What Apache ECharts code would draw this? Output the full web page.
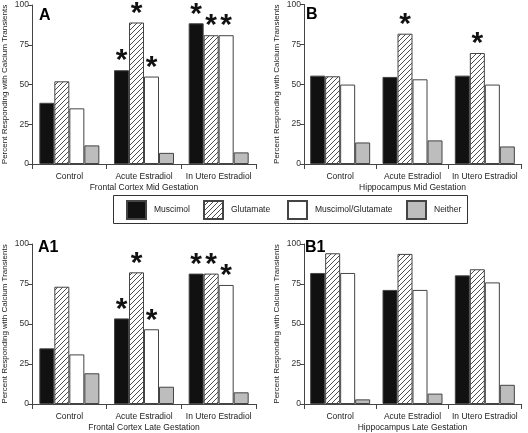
<!DOCTYPE html>
<html>
<head>
<meta charset="utf-8">
<script src="https://cdn.jsdelivr.net/npm/echarts@6/dist/echarts.min.js"></script>
<style>
html,body{margin:0;padding:0;background:#fff;}
#chart{width:528px;height:433px;}
</style>
</head>
<body>
<div id="chart"></div>
<script>
// ---- data ----
const categories = ['Control', 'Acute Estradiol', 'In Utero Estradiol'];
const seriesNames = ['Muscimol', 'Glutamate', 'Muscimol/Glutamate', 'Neither'];
const yTicks = [0, 25, 50, 75, 100];
const panelLetters = ['A', 'B', 'A1', 'B1'];
const panelTitles = ['Frontal Cortex Mid Gestation', 'Hippocampus Mid Gestation', 'Frontal Cortex Late Gestation', 'Hippocampus Late Gestation'];
const yAxisTitle = 'Percent Responding with Calcium Transients';

// Frontal cortex mid gestation (A)
const frontalMidMuscimol = [38.5, 59, 88.5];
const frontalMidGlutamate = [52, 89, 81];
const frontalMidBoth = [35, 55, 81];
const frontalMidNeither = [11.7, 7, 7.3];
const frontalMidStars = [[0, 1, 1], [0, 1, 1], [0, 1, 1], [0, 0, 0]];

// Hippocampus mid gestation (B)
const hippoMidMuscimol = [55.4, 54.6, 55.4];
const hippoMidGlutamate = [55, 81.7, 69.6];
const hippoMidBoth = [49.8, 53.1, 49.8];
const hippoMidNeither = [13.5, 14.8, 11];
const hippoMidStars = [[0, 0, 0], [0, 1, 1], [0, 0, 0], [0, 0, 0]];

// Frontal cortex late gestation (A1)
const frontalLateMuscimol = [34.8, 53.5, 81.5];
const frontalLateGlutamate = [73.3, 82.3, 81.5];
const frontalLateBoth = [31, 46.7, 74.4];
const frontalLateNeither = [19.2, 10.8, 7.3];
const frontalLateStars = [[0, 1, 1], [0, 1, 1], [0, 1, 1], [0, 0, 0]];

// Hippocampus late gestation (B1)
const hippoLateMuscimol = [81.9, 71.3, 80.4];
const hippoLateGlutamate = [94.2, 93.8, 84.2];
const hippoLateBoth = [81.9, 71.3, 76];
const hippoLateNeither = [2.9, 6.5, 12];
const hippoLateStars = [[0, 0, 0], [0, 0, 0], [0, 0, 0], [0, 0, 0]];

// ---- build ----
const panelData = [
  [frontalMidMuscimol, frontalMidGlutamate, frontalMidBoth, frontalMidNeither],
  [hippoMidMuscimol, hippoMidGlutamate, hippoMidBoth, hippoMidNeither],
  [frontalLateMuscimol, frontalLateGlutamate, frontalLateBoth, frontalLateNeither],
  [hippoLateMuscimol, hippoLateGlutamate, hippoLateBoth, hippoLateNeither]
];
const panelStars = [frontalMidStars, hippoMidStars, frontalLateStars, hippoLateStars];

// hatch pattern
const hc = document.createElement('canvas');
hc.width = 5; hc.height = 5;
const hx = hc.getContext('2d');
hx.fillStyle = '#ffffff';
hx.fillRect(0, 0, 5, 5);
hx.strokeStyle = '#3a3a3a';
hx.lineWidth = 0.9;
hx.beginPath();
hx.moveTo(-1, 6); hx.lineTo(6, -1);
hx.moveTo(-1, 1); hx.lineTo(1, -1);
hx.moveTo(4, 6); hx.lineTo(6, 4);
hx.stroke();

const fills = ['#111111', { image: hc, repeat: 'repeat' }, '#ffffff', '#bdbdbd'];
const FONT = 'Liberation Sans, Arial, sans-serif';

const grids = [
  { left: 32, top: 5, width: 224, height: 159 },
  { left: 304, top: 4, width: 217, height: 160 },
  { left: 32, top: 244, width: 224, height: 160 },
  { left: 304, top: 244, width: 217, height: 160 }
];

const xAxes = [], yAxes = [], series = [];
grids.forEach((g, i) => {
  xAxes.push({
    type: 'category', gridIndex: i, data: categories,
    name: panelTitles[i], nameLocation: 'middle', nameGap: 19,
    nameTextStyle: { fontSize: 8.5, color: '#222', fontFamily: FONT },
    axisLine: { lineStyle: { color: '#444', width: 1 } },
    axisTick: { show: true, length: 5, lineStyle: { color: '#444' } },
    axisLabel: { fontSize: 8.5, color: '#222', margin: 8, fontFamily: FONT, interval: 0, hideOverlap: false }
  });
  yAxes.push({
    type: 'value', gridIndex: i, min: 0, max: 100, interval: 25,
    name: yAxisTitle, nameLocation: 'middle', nameGap: 23, nameRotate: 90,
    nameTextStyle: { fontSize: 8, color: '#222', fontFamily: FONT },
    axisLine: { show: true, lineStyle: { color: '#444', width: 1 } },
    axisTick: { show: true, length: 4, lineStyle: { color: '#444' } },
    axisLabel: { fontSize: 8.5, color: '#333', margin: 3, fontFamily: FONT },
    splitLine: { show: false }
  });
  panelData[i].forEach((vals, s) => {
    series.push({
      type: 'bar', name: seriesNames[s], xAxisIndex: i, yAxisIndex: i,
      data: vals, barWidth: 15, barGap: 0,
      itemStyle: { color: fills[s], borderColor: '#444', borderWidth: 1 },
      emphasis: { disabled: true },
      label: {
        show: true, position: 'top', distance: -6,
        fontSize: 30, fontWeight: 'bold', color: '#111', fontFamily: FONT,
        formatter: (p) => panelStars[i][s][p.dataIndex] ? '*' : ''
      }
    });
  });
});

const legendLefts = [126, 203, 287, 406];
const legends = seriesNames.map((n, k) => ({
  data: [{ name: n, icon: 'rect' }], left: legendLefts[k], top: 200, itemWidth: 19, itemHeight: 18,
  selectedMode: false, padding: 0,
  textStyle: { fontSize: 8.5, color: '#222', fontFamily: FONT, padding: [0, 0, 0, 3] }
}));

const graphics = [
  { type: 'rect', shape: { x: 113.5, y: 195.5, width: 354, height: 28 }, style: { fill: 'none', stroke: '#333', lineWidth: 1 }, z: 10 }
];
const letterPos = [[39, 8], [306, 7], [38, 240], [305, 240]];
panelLetters.forEach((t, i) => {
  graphics.push({ type: 'text', left: letterPos[i][0], top: letterPos[i][1], style: { text: t, fontSize: 16, fontWeight: 'bold', fill: '#000', font: 'bold 16px ' + FONT }, z: 20 });
});

const chart = echarts.init(document.getElementById('chart'), null, { renderer: 'canvas' });
chart.setOption({
  animation: false,
  backgroundColor: '#fff',
  grid: grids,
  xAxis: xAxes,
  yAxis: yAxes,
  legend: legends,
  series: series,
  graphic: graphics
});
</script>
</body>
</html>
